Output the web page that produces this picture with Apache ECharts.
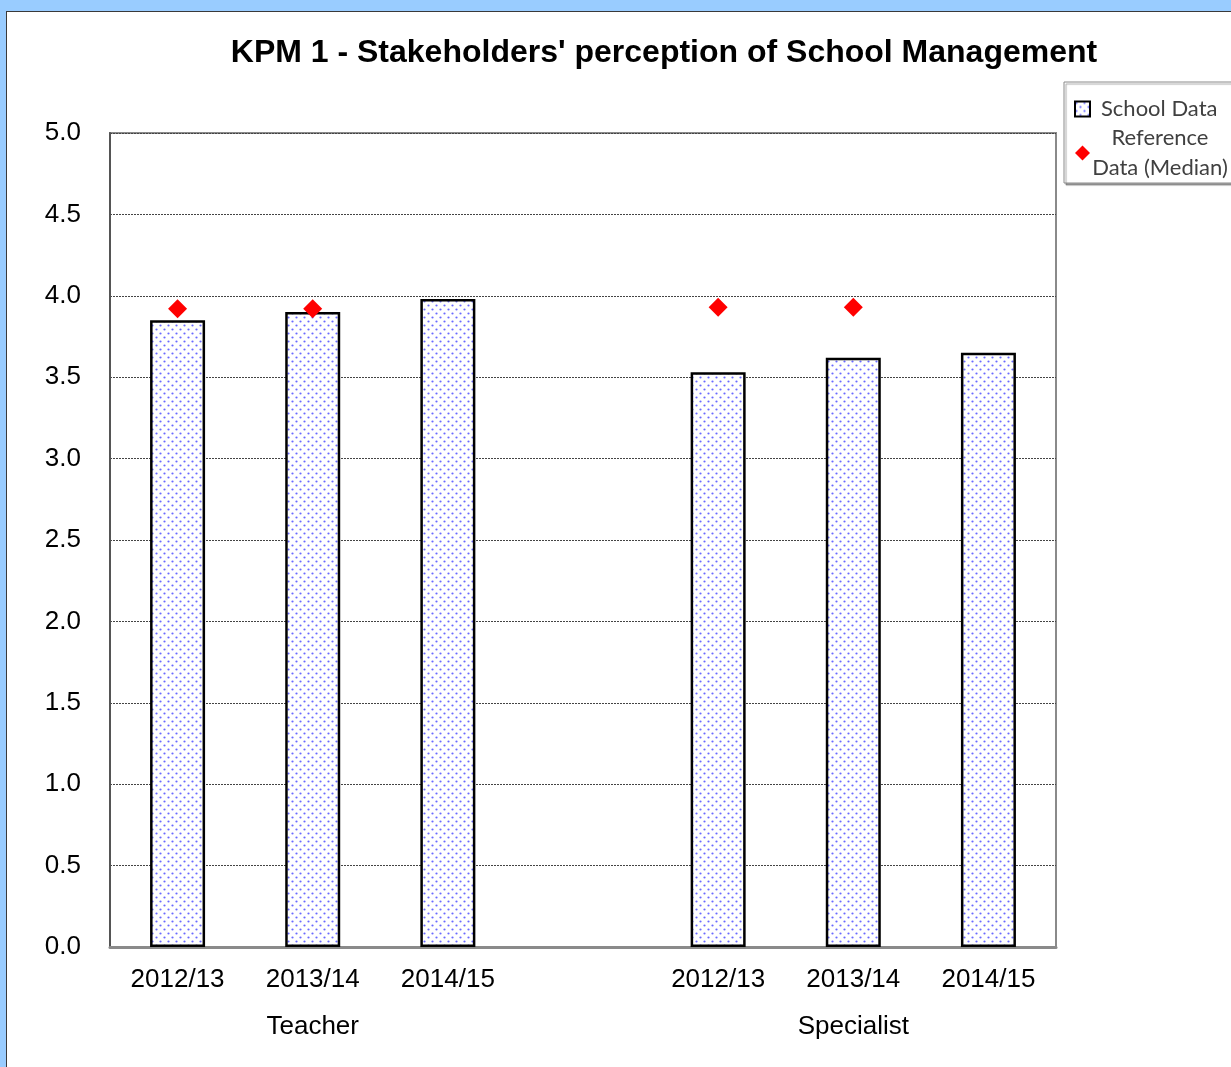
<!DOCTYPE html>
<html>
<head>
<meta charset="utf-8">
<title>KPM 1 - Stakeholders' perception of School Management</title>
<script src="https://cdn.jsdelivr.net/npm/echarts@6/dist/echarts.min.js"></script>
<style>
  html, body {
    margin: 0;
    padding: 0;
    background: #99ccff;
  }
  #chart {
    position: absolute;
    left: 6px;
    top: 11px;
    width: 1224px;
    height: 1055px;
    background: #ffffff;
    border-left: 1px solid #3a3a3a;
    border-top: 1px solid #3a3a3a;
  }
</style>
</head>
<body>
<div id="chart"></div>
<script>
// values
const years = ['2012/13', '2013/14', '2014/15']
const groups = ['Teacher', 'Specialist']
const schoolTeacher = [3.85, 3.90, 3.98]
const schoolSpecialist = [3.53, 3.62, 3.65]
const refTeacher = [3.92, 3.92, null]
const refSpecialist = [3.93, 3.93, null]
const yTicks = [0, 0.5, 1, 1.5, 2, 2.5, 3, 3.5, 4, 4.5, 5]

// one empty slot between the two groups
const categories = [...years, '', ...years]
const groupLabels = ['', groups[0], '', '', '', groups[1], '']
const schoolValues = [...schoolTeacher, null, ...schoolSpecialist]
const refValues = [...refTeacher, null, ...refSpecialist]

// dotted fill like the spreadsheet pattern
const makePattern = () => {
  const c = document.createElement('canvas')
  c.width = 8
  c.height = 8
  const ctx = c.getContext('2d')
  ctx.fillStyle = '#ffffff'
  ctx.fillRect(0, 0, 8, 8)
  ctx.fillStyle = '#6a6aff'
  ctx.beginPath()
  ctx.arc(1.5, 1.5, 1.1, 0, Math.PI * 2)
  ctx.fill()
  ctx.beginPath()
  ctx.arc(5.5, 5.5, 1.1, 0, Math.PI * 2)
  ctx.fill()
  return c
}

const font = 'Liberation Sans, Arial, sans-serif'
const legendFont = 'Lato, Open Sans, sans-serif'
const chart = echarts.init(document.getElementById('chart'))

chart.setOption({
  animation: false,
  title: {
    text: "KPM 1 - Stakeholders' perception of School Management",
    left: 652,
    textAlign: 'center',
    top: 20,
    textStyle: {
      fontFamily: font,
      fontSize: 32,
      fontWeight: 'bold',
      color: '#000'
    }
  },
  legend: {
    left: 1057,
    top: 70,
    orient: 'vertical',
    itemGap: 7,
    itemWidth: 15,
    itemHeight: 15,
    padding: [16, 8, 4, 10],
    backgroundColor: '#fff',
    borderColor: '#8a8a8a',
    borderWidth: 1,
    shadowColor: 'rgba(0,0,0,0.35)',
    shadowOffsetX: 2,
    shadowOffsetY: 2,
    shadowBlur: 1,
    textStyle: {
      fontFamily: legendFont,
      fontSize: 22,
      color: '#404040',
      rich: {
        s: { fontFamily: legendFont, fontSize: 22, color: '#404040', lineHeight: 30, padding: [0, 0, 0, 6] },
        c: { width: 130, align: 'center', fontFamily: legendFont, fontSize: 22, color: '#404040', lineHeight: 30 }
      }
    },
    formatter: (name) => name === 'School Data' ? '{s|School Data}' : '{c|Reference}\n{c|Data (Median)}',
    data: [
      { name: 'School Data', icon: 'rect' },
      { name: 'Reference Data (Median)', icon: 'diamond' }
    ]
  },
  grid: {
    left: 103,
    top: 121,
    right: 175,
    bottom: 120,
    show: true,
    borderColor: '#8a8a8a',
    borderWidth: 2
  },
  xAxis: [
    {
      type: 'category',
      data: categories,
      position: 'bottom',
      axisLine: { show: true, lineStyle: { color: '#8a8a8a', width: 3 } },
      axisTick: { show: false },
      axisLabel: {
        margin: 20,
        fontFamily: font,
        fontSize: 26,
        color: '#000'
      }
    },
    {
      type: 'category',
      data: groupLabels,
      position: 'bottom',
      offset: 47,
      axisLine: { show: false },
      axisTick: { show: false },
      axisLabel: {
        margin: 20,
        fontFamily: font,
        fontSize: 26,
        color: '#000',
        interval: 0
      }
    }
  ],
  yAxis: {
    type: 'value',
    min: yTicks[0],
    max: yTicks[yTicks.length - 1],
    interval: 0.5,
    axisLine: { show: true, lineStyle: { color: '#555', width: 2 } },
    axisTick: { show: false },
    axisLabel: {
      margin: 29,
      fontFamily: font,
      fontSize: 26,
      color: '#000',
      formatter: (v) => v.toFixed(1)
    },
    splitLine: {
      show: true,
      lineStyle: { color: '#444', width: 1, type: [2, 1] }
    }
  },
  series: [
    {
      name: 'School Data',
      type: 'bar',
      xAxisIndex: 0,
      barWidth: 55,
      data: schoolValues,
      itemStyle: {
        color: { image: makePattern(), repeat: 'repeat' },
        borderColor: '#000',
        borderWidth: 2.5
      }
    },
    {
      name: 'Reference Data (Median)',
      type: 'scatter',
      xAxisIndex: 0,
      symbol: 'diamond',
      symbolSize: 19,
      data: refValues,
      itemStyle: { color: '#ff0000', opacity: 1 },
      z: 5
    }
  ]
})
</script>
</body>
</html>
